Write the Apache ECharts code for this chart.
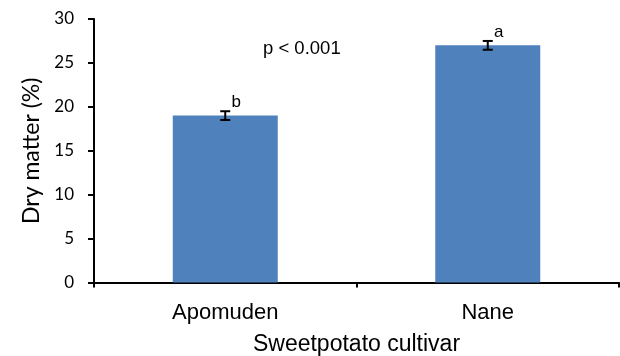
<!DOCTYPE html>
<html>
<head>
<meta charset="utf-8">
<script src="https://cdn.jsdelivr.net/npm/echarts@6/dist/echarts.min.js"></script>
<style>
  html, body { margin: 0; padding: 0; background: #fff; }
  #chart { width: 620px; height: 356px; }
</style>
</head>
<body>
<div id="chart"></div>
<script>
// Dry matter content of two sweetpotato cultivars
const cultivars = ['Apomuden', 'Nane'];
const dryMatter = [19.0, 27.0];
const stdError = [0.5, 0.5];
const letters = ['b', 'a'];
const yTicks = [0, 5, 10, 15, 20, 25, 30];
const pText = 'p < 0.001';

const chart = echarts.init(document.getElementById('chart'));

const errData = cultivars.map((c, i) => [i, dryMatter[i], stdError[i], letters[i]]);

chart.setOption({
  animation: false,
  grid: { left: 94, right: 1, top: 19, bottom: 73.5, containLabel: false, outerBoundsMode: 'none' },
  xAxis: {
    type: 'category',
    data: cultivars,
    boundaryGap: true,
    axisLine: { lineStyle: { color: '#000', width: 2 } },
    axisTick: { show: true, inside: false, length: 5, lineStyle: { color: '#000', width: 2 } },
    axisLabel: { color: '#000', fontFamily: 'Liberation Sans', fontSize: 22, margin: 19 },
    name: 'Sweetpotato cultivar',
    nameLocation: 'middle',
    nameGap: 51,
    nameTextStyle: { color: '#000', fontFamily: 'Liberation Sans', fontSize: 23 }
  },
  yAxis: {
    type: 'value',
    min: yTicks[0],
    max: yTicks[yTicks.length - 1],
    interval: yTicks[1] - yTicks[0],
    splitLine: { show: false },
    axisLine: { show: true, lineStyle: { color: '#000', width: 2 } },
    axisTick: { show: true, inside: false, length: 6, lineStyle: { color: '#000', width: 2 } },
    axisLabel: { color: '#000', fontFamily: 'Lato', fontSize: 17, margin: 20 },
    name: 'Dry matter (%)',
    nameLocation: 'middle',
    nameGap: 49,
    nameTextStyle: { color: '#000', fontFamily: 'Lato', fontSize: 23 }
  },
  series: [
    {
      type: 'bar',
      data: dryMatter,
      barWidth: '40%',
      itemStyle: { color: '#4F81BD' },
      z: 2
    },
    {
      type: 'custom',
      data: errData,
      z: 3,
      renderItem: function (params, api) {
        const x = api.value(0);
        const v = api.value(1);
        const e = api.value(2);
        const top = api.coord([x, v + e]);
        const bot = api.coord([x, v - e]);
        const cap = 5;
        const style = { stroke: '#000', lineWidth: 2 };
        return {
          type: 'group',
          children: [
            { type: 'line', shape: { x1: top[0], y1: top[1], x2: bot[0], y2: bot[1] }, style: style },
            { type: 'line', shape: { x1: top[0] - cap, y1: top[1], x2: top[0] + cap, y2: top[1] }, style: style },
            { type: 'line', shape: { x1: bot[0] - cap, y1: bot[1], x2: bot[0] + cap, y2: bot[1] }, style: style },
            {
              type: 'text',
              x: top[0] + 11,
              y: top[1] - 9,
              style: {
                text: api.value(3),
                fill: '#000',
                font: '17px "Liberation Sans"',
                align: 'center',
                verticalAlign: 'middle'
              }
            }
          ]
        };
      }
    }
  ],
  graphic: [
    {
      type: 'text',
      left: 263,
      top: 39,
      style: { text: pText, fill: '#000', font: '18.5px "Liberation Sans"' }
    }
  ]
});
</script>
</body>
</html>
